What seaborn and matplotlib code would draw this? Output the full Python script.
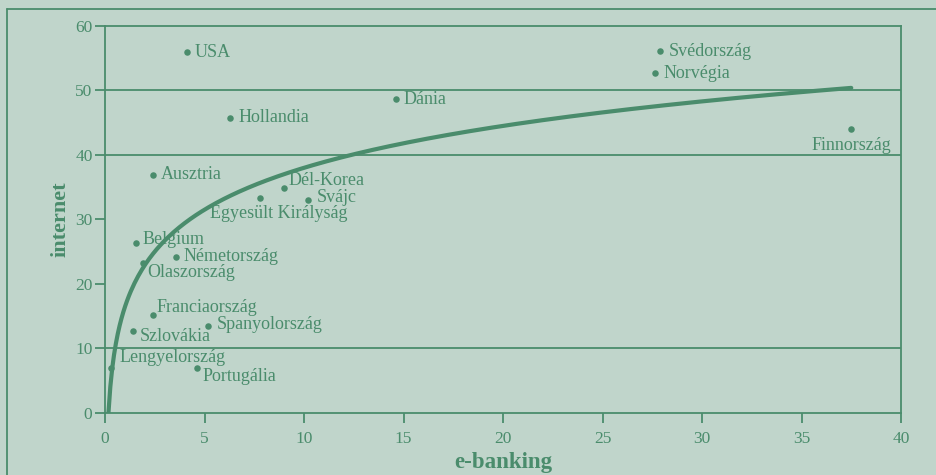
import numpy as np
import pandas as pd
import matplotlib
matplotlib.use("Agg")
import matplotlib.pyplot as plt
from matplotlib.lines import Line2D
import seaborn as sns

countries = ["USA", "Hollandia", "Ausztria", "Dél-Korea", "Egyesült Királyság", "Svájc",
             "Dánia", "Svédország", "Norvégia", "Finnország", "Belgium", "Németország",
             "Olaszország", "Franciaország", "Szlovákia", "Spanyolország", "Lengyelország",
             "Portugália"]
ebanking = [4.1, 6.3, 2.4, 9.0, 7.8, 10.2, 14.6, 27.9, 27.65, 37.5, 1.55, 3.55,
            1.9, 2.4, 1.4, 5.2, 0.3, 4.6]
internet = [55.9, 45.8, 36.9, 34.8, 33.3, 33.0, 48.6, 56.1, 52.7, 44.0, 26.3, 24.2,
            23.2, 15.1, 12.7, 13.4, 7.0, 6.9]

# logarithmic trend: internet = a * ln(e-banking) + b
trend_a = 9.38
trend_b = 16.4

x_ticks = [0, 5, 10, 15, 20, 25, 30, 35, 40]
y_ticks = [0, 10, 20, 30, 40, 50, 60]
grid_levels = [10, 40, 50]

# label placement (offsets in points, alignment)
label_pos = {
    "USA": (6, 0, "left", "center"),
    "Hollandia": (6, 0, "left", "center"),
    "Ausztria": (6, 0, "left", "center"),
    "Dél-Korea": (3, 6, "left", "center"),
    "Egyesült Királyság": (-36, -11, "left", "center"),
    "Svájc": (6, 2, "left", "center"),
    "Dánia": (6, 0, "left", "center"),
    "Svédország": (6, 0, "left", "center"),
    "Norvégia": (6, 0, "left", "center"),
    "Finnország": (0, -12, "center", "center"),
    "Belgium": (5, 3, "left", "center"),
    "Németország": (6, 0, "left", "center"),
    "Olaszország": (3, -7, "left", "center"),
    "Franciaország": (3, 6, "left", "center"),
    "Szlovákia": (5, -4, "left", "center"),
    "Spanyolország": (6, 1, "left", "center"),
    "Lengyelország": (6, 7, "left", "center"),
    "Portugália": (4, -6, "left", "center"),
}

bg = "#c0d5cb"
green = "#4a8c6c"

sns.set_theme(style="white", rc={"axes.facecolor": bg, "figure.facecolor": bg})
plt.rcParams["font.family"] = ["Liberation Serif", "DejaVu Serif"]

df = pd.DataFrame({"country": countries, "ebanking": ebanking, "internet": internet})

fig = plt.figure(figsize=(9.36, 4.75), dpi=100)
ax = fig.add_axes([105 / 936, 1 - 412.7 / 475, (901 - 105) / 936, (412.7 - 26) / 475])

for lvl in grid_levels:
    ax.axhline(lvl, color=green, lw=1.3, zorder=1)

x0 = np.exp(-trend_b / trend_a)
xs = np.linspace(x0, max(ebanking), 400)
trend = pd.DataFrame({"x": xs, "y": trend_a * np.log(xs) + trend_b})
sns.lineplot(data=trend, x="x", y="y", ax=ax, color=green, lw=3.0, zorder=3)

sns.scatterplot(data=df, x="ebanking", y="internet", ax=ax, color=green, s=22,
                linewidth=0, zorder=4)

for c, xv, yv in zip(countries, ebanking, internet):
    dx, dy, ha, va = label_pos[c]
    ax.annotate(c, (xv, yv), xytext=(dx, dy), textcoords="offset points",
                ha=ha, va=va, fontsize=13, color=green, zorder=5)

ax.set_xlim(0, 40)
ax.set_ylim(0, 60)
ax.set_xticks(x_ticks)
ax.set_yticks(y_ticks)
ax.tick_params(axis="both", colors=green, labelcolor=green, labelsize=12.5,
               length=7, width=1.3, direction="out", bottom=True, left=True)
ax.tick_params(axis="x", pad=6)
ax.tick_params(axis="y", pad=2)
for s in ax.spines.values():
    s.set_color(green)
    s.set_linewidth(1.3)

ax.set_xlabel("e-banking", fontsize=16.5, fontweight="bold", color=green, labelpad=4)
ax.set_ylabel("internet", fontsize=16, fontweight="bold", color=green, labelpad=3)

# outer frame (top and left edges)
fig.add_artist(Line2D([7 / 936, 7 / 936], [0, 1 - 9 / 475], transform=fig.transFigure,
                      color=green, lw=1.3))
fig.add_artist(Line2D([7 / 936, 1], [1 - 9 / 475, 1 - 9 / 475], transform=fig.transFigure,
                      color=green, lw=1.3))

fig.savefig("out.png", dpi=100, facecolor=bg)
